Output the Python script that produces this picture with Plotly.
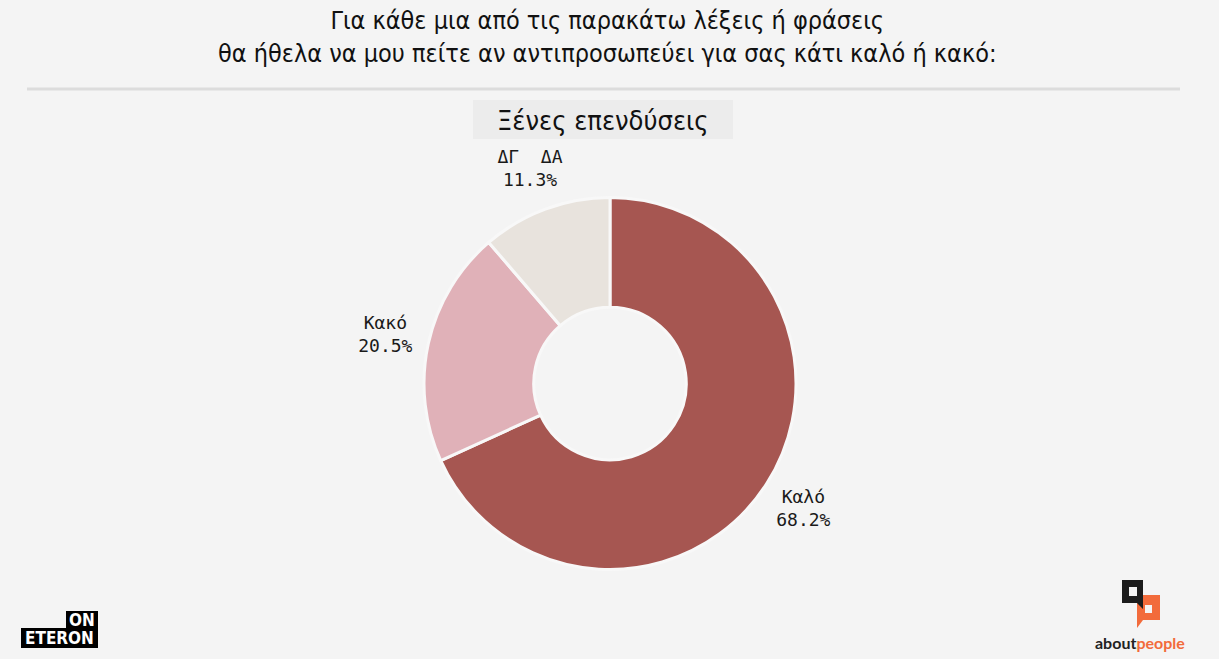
import plotly.graph_objects as go

# ---- data ----
labels = ["Καλό", "Κακό", "ΔΓ  ΔΑ"]
values = [68.2, 20.5, 11.3]
colors = ["#a65651", "#e0b1b8", "#e8e3dd"]

title_lines = ["Για κάθε μια από τις παρακάτω λέξεις ή φράσεις",
               "θα ήθελα να μου πείτε αν αντιπροσωπεύει για σας κάτι καλό ή κακό:"]
subtitle = "Ξένες επενδύσεις"

W, H = 1219, 659
BG = "#f4f4f4"

def px(x):
    return x / W

def py(y):
    return 1 - y / H

cx, cy, r = 610, 383.5, 186
r_lab_in, r_lab_out = 186, 274

fig = go.Figure()
fig.add_trace(go.Pie(
    labels=labels,
    values=values,
    sort=False,
    direction="clockwise",
    rotation=0,
    hole=0.41,
    marker=dict(colors=colors, line=dict(color="#f8f8f8", width=3)),
    textinfo="none",
    showlegend=False,
    hoverinfo="label+value",
    domain=dict(x=[px(cx - r), px(cx + r)], y=[py(cy + r), py(cy - r)]),
))
# transparent ring carrying the slice labels
fig.add_trace(go.Pie(
    labels=labels,
    values=values,
    sort=False,
    direction="clockwise",
    rotation=0,
    hole=r_lab_in / r_lab_out,
    marker=dict(colors=["rgba(0,0,0,0)"] * len(values), line=dict(width=0)),
    texttemplate="%{label}<br>%{value:.1f}%",
    textposition="inside",
    insidetextorientation="horizontal",
    insidetextfont=dict(family="DejaVu Sans Mono, Liberation Mono, monospace", size=18, color="#1a1a1a"),
    showlegend=False,
    hoverinfo="skip",
    domain=dict(x=[px(cx - r_lab_out), px(cx + r_lab_out)], y=[py(cy + r_lab_out), py(cy - r_lab_out)]),
))

title_font = dict(family="DejaVu Sans Condensed, Roboto, sans-serif", size=25, color="#111111")

annotations = [
    dict(text="<br>".join(title_lines), x=px(607), y=py(37), xref="paper", yref="paper",
         xanchor="center", yanchor="middle", showarrow=False, font=title_font, align="center"),
    dict(text=subtitle, x=px(603), y=py(120), xref="paper", yref="paper",
         xanchor="center", yanchor="middle", showarrow=False,
         font=dict(family="DejaVu Sans Condensed, Roboto, sans-serif", size=27, color="#111111")),
    # ONETERON logo
    dict(text="<b>ON</b>", x=px(82), y=py(620), xref="paper", yref="paper",
         xanchor="center", yanchor="middle", showarrow=False,
         font=dict(family="DejaVu Sans Condensed, sans-serif", size=17, color="white")),
    dict(text="<b>ETERON</b>", x=px(59), y=py(638), xref="paper", yref="paper",
         xanchor="center", yanchor="middle", showarrow=False,
         font=dict(family="DejaVu Sans Condensed, sans-serif", size=17, color="white")),
    # aboutpeople logo text
    dict(text="<b>about</b><b><span style='color:#f26b3b'>people</span></b>", x=px(1140), y=py(642),
         xref="paper", yref="paper", xanchor="center", yanchor="middle", showarrow=False,
         font=dict(family="Lato, Roboto, sans-serif", size=16, color="#222222")),
]

shapes = [
    # separator line
    dict(type="line", xref="paper", yref="paper", x0=px(27), x1=px(1180), y0=py(89), y1=py(89),
         line=dict(color="#dcdcdc", width=3)),
    # subtitle box
    dict(type="rect", xref="paper", yref="paper", x0=px(473), x1=px(733), y0=py(139), y1=py(100),
         fillcolor="#ececec", line=dict(width=0), layer="below"),
    # ONETERON boxes
    dict(type="rect", xref="paper", yref="paper", x0=px(66), x1=px(98), y0=py(629), y1=py(611),
         fillcolor="#000000", line=dict(width=0), layer="below"),
    dict(type="rect", xref="paper", yref="paper", x0=px(21), x1=px(98), y0=py(648), y1=py(628),
         fillcolor="#000000", line=dict(width=0), layer="below"),
    # aboutpeople orange bubble
    dict(type="path", xref="paper", yref="paper", layer="above",
         path=f"M {px(1137)},{py(595)} L {px(1160)},{py(595)} L {px(1160)},{py(620)} L {px(1143)},{py(620)} L {px(1137)},{py(628)} Z",
         fillcolor="#f26b3b", line=dict(width=0)),
    dict(type="rect", xref="paper", yref="paper", x0=px(1145), x1=px(1152), y0=py(613), y1=py(605),
         fillcolor=BG, line=dict(width=0)),
    # aboutpeople black bubble
    dict(type="path", xref="paper", yref="paper",
         path=f"M {px(1122)},{py(580)} L {px(1143)},{py(580)} L {px(1143)},{py(609)} L {px(1137)},{py(603)} L {px(1122)},{py(603)} Z",
         fillcolor="#1c1c1c", line=dict(width=0)),
    dict(type="rect", xref="paper", yref="paper", x0=px(1129), x1=px(1137), y0=py(596), y1=py(587),
         fillcolor=BG, line=dict(width=0)),
]

fig.update_layout(
    width=W, height=H,
    margin=dict(l=0, r=0, t=0, b=0),
    paper_bgcolor=BG, plot_bgcolor=BG,
    annotations=annotations,
    shapes=shapes,
)

fig.write_html("out.html", config={"displayModeBar": False},
               post_script="document.body.style.margin='0px';document.body.style.background='#f4f4f4';")
